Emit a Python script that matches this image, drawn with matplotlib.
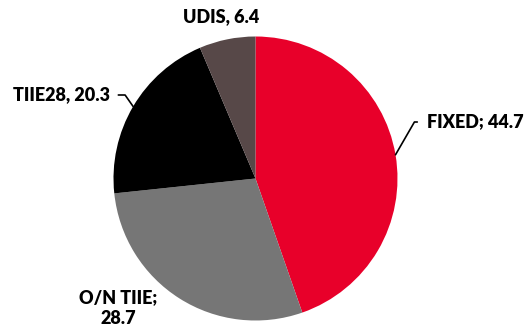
import numpy as np
import matplotlib
matplotlib.use("Agg")
import matplotlib.pyplot as plt

labels = ["FIXED", "O/N TIIE", "TIIE28", "UDIS"]
values = [44.7, 28.7, 20.3, 6.4]
colors = ["#E8002A", "#767676", "#000000", "#574848"]

plt.rcParams["font.family"] = ["Lato", "DejaVu Sans"]

fig = plt.figure(figsize=(5.27, 3.35), dpi=100)
ax = fig.add_axes([0, 0, 1, 1])

cx, cy, r = 255.5, 156.5, 142
wedges, _ = ax.pie(values, colors=colors, startangle=90, counterclock=False,
                   center=(cx, cy), radius=r, frame=True,
                   wedgeprops=dict(linewidth=0))
ax.set_xlim(0, 527)
ax.set_ylim(0, 335)
ax.set_aspect("equal")
ax.axis("off")

def edge_point(w):
    ang = np.deg2rad((w.theta1 + w.theta2) / 2)
    return cx + r * np.cos(ang), cy + r * np.sin(ang)

font = dict(fontsize=13, fontweight="heavy", color="black")

# FIXED with a leader line
px, py = edge_point(wedges[0])
ax.annotate(f"{labels[0]}; {values[0]}", xy=(px, py), xytext=(427, 213),
            ha="left", va="center", **font,
            arrowprops=dict(arrowstyle="-", color="black", lw=1.2,
                            connectionstyle="angle,angleA=0,angleB=60,rad=0",
                            shrinkA=5, shrinkB=0))

# TIIE28 with a short leader line
px, py = edge_point(wedges[2])
ax.annotate(f"{labels[2]}, {values[2]}", xy=(px, py), xytext=(110, 240),
            ha="right", va="center", **font,
            arrowprops=dict(arrowstyle="-", color="black", lw=1.2,
                            connectionstyle="angle,angleA=0,angleB=-55,rad=0",
                            shrinkA=4, shrinkB=0))

ax.text(118, 27, f"{labels[1]};\n{values[1]}", ha="center", va="center",
        linespacing=1.25, **font)
ax.text(221, 318, f"{labels[3]}, {values[3]}", ha="center", va="center", **font)

fig.savefig("out.png", dpi=100)
